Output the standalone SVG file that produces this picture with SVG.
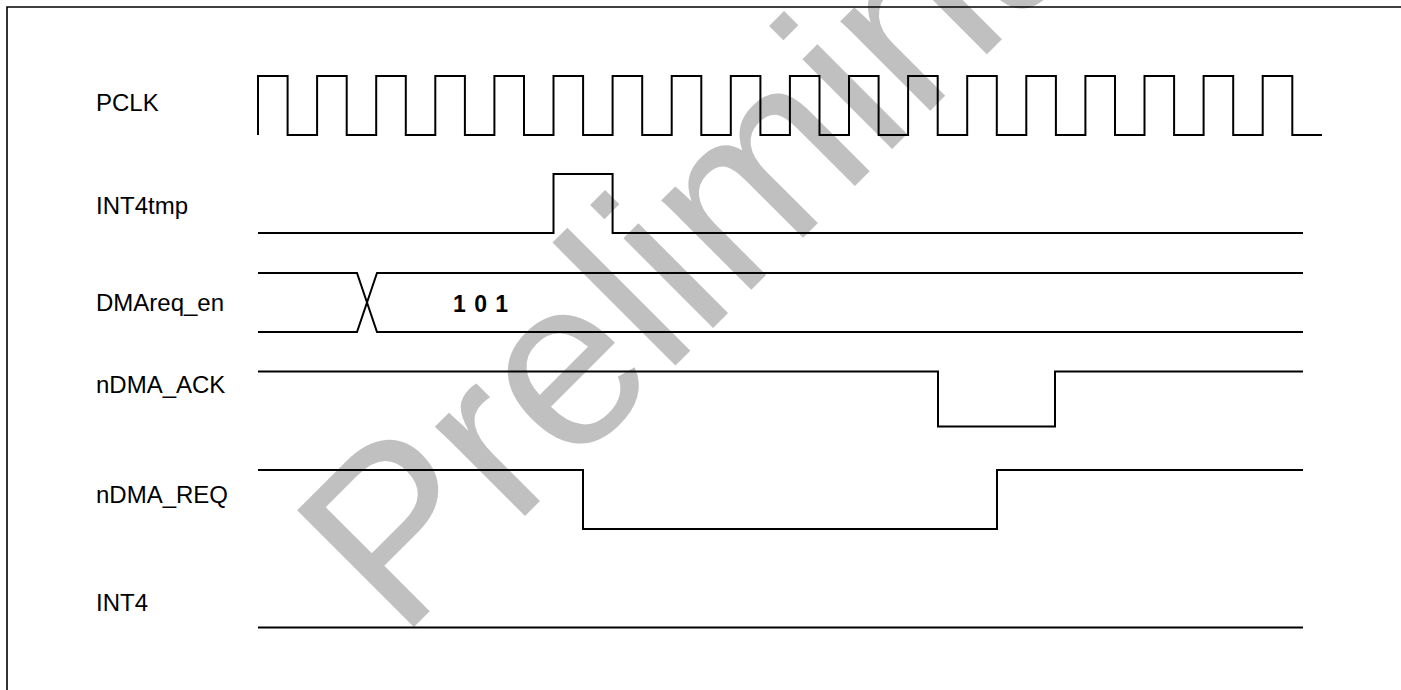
<svg xmlns="http://www.w3.org/2000/svg" width="1401" height="690" viewBox="0 0 1401 690">
<style>
.lbl{font-family:"Liberation Sans",Arial,sans-serif;font-size:24px;fill:#000}
.val{font-family:"Liberation Sans",Arial,sans-serif;font-size:23px;font-weight:bold;fill:#000}
.w{fill:none;stroke:#000;stroke-width:2;stroke-linejoin:miter;stroke-linecap:butt}
.wm{font-family:"Liberation Sans",Arial,sans-serif;font-size:240px;fill:#c0c0c0}
</style>
<rect x="0" y="0" width="1401" height="690" fill="#fff"/>
<g id="watermark">
<text class="wm" transform="translate(400,641) rotate(-45)">Preliminary</text>
</g>
<path id="frame" d="M7,690 V7 H1401" fill="none" stroke="#000" stroke-width="1.6"/>
<g id="labels">
<text id="lbl-pclk" class="lbl" x="96" y="111">PCLK</text>
<text id="lbl-int4tmp" class="lbl" x="96" y="214">INT4tmp</text>
<text id="lbl-dmareq" class="lbl" x="96" y="311">DMAreq_en</text>
<text id="lbl-ack" class="lbl" x="96" y="393">nDMA_ACK</text>
<text id="lbl-req" class="lbl" x="96" y="503">nDMA_REQ</text>
<text id="lbl-int4" class="lbl" x="96" y="611">INT4</text>
</g>
<g id="waveforms">
<g id="PCLK"><path class="w" stroke-width="1.8" d="M258,135 V76 H287.6 V135 H317.1 V76 H346.7 V135 H376.2 V76 H405.8 V135 H435.3 V76 H464.9 V135 H494.4 V76 H524 V135 H553.5 V76 H583.1 V135 H612.6 V76 H642.2 V135 H671.7 V76 H701.3 V135 H730.8 V76 H760.4 V135 H789.9 V76 H819.5 V135 H849 V76 H878.6 V135 H908.1 V76 H937.7 V135 H967.2 V76 H996.8 V135 H1026.3 V76 H1055.9 V135 H1085.4 V76 H1115 V135 H1144.5 V76 H1174.1 V135 H1203.6 V76 H1233.2 V135 H1262.7 V76 H1292.3 V135 H1322"/></g>
<g id="INT4tmp"><path class="w" stroke-width="2.2" d="M258,233 H553.5 V174 H612.6 V233 H1303"/></g>
<g id="DMAreq_en">
<path class="w" stroke-width="1.6" d="M258,273 H357 L377,332 H1045 M258,332 H357 L377,273 H1045"/>
<path class="w" stroke-width="2.4" d="M1045,273 H1303 M1045,332 H1303"/>
<text class="val" x="453" y="312" letter-spacing="1">1 0 1</text>
</g>
<g id="nDMA_ACK"><path class="w" stroke-width="2.6" d="M258,371.5 H938 V426.5 H1055 V371.5 H1303"/></g>
<g id="nDMA_REQ"><path class="w" stroke-width="2.2" d="M258,470 H583 V529 H997 V470 H1303"/></g>
<g id="INT4"><path class="w" stroke-width="2.8" d="M258,627.5 H1303"/></g>
</g>
</svg>
